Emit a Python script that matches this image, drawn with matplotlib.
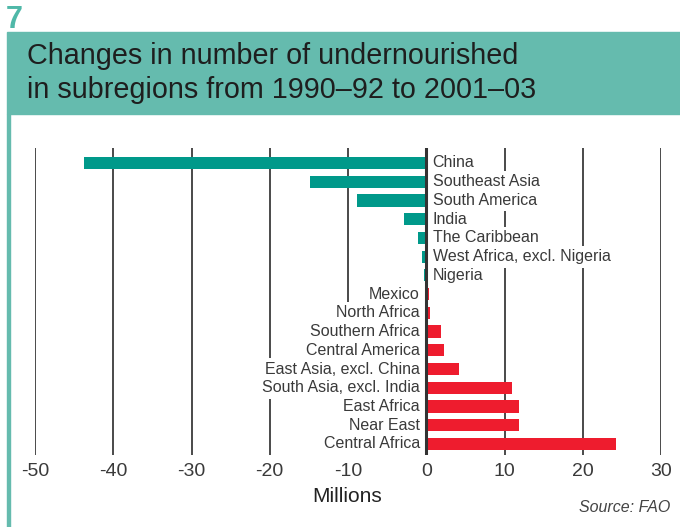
import matplotlib.pyplot as plt
from matplotlib.patches import Rectangle

# --- data (millions, change 1990-92 -> 2001-03) ---
regions = ['China', 'Southeast Asia', 'South America', 'India', 'The Caribbean',
           'West Africa, excl. Nigeria', 'Nigeria', 'Mexico', 'North Africa',
           'Southern Africa', 'Central America', 'East Asia, excl. China',
           'South Asia, excl. India', 'East Africa', 'Near East', 'Central Africa']
changes = [-43.7, -14.8, -8.8, -2.9, -1.0, -0.5, -0.3, 0.4, 0.5,
           1.9, 2.3, 4.2, 10.9, 11.8, 11.9, 24.2]
xticks = [-50, -40, -30, -20, -10, 0, 10, 20, 30]

teal_bar = '#00998a'
red_bar = '#ee1c2e'
band = '#65bbae'
txt = '#3a3a3a'
plt.rcParams['font.family'] = ['Liberation Sans', 'DejaVu Sans']

fig = plt.figure(figsize=(6.8, 5.27), dpi=100)
W, H = 680, 527

# --- header band ---
fig.patches.append(Rectangle((7 / W, 1 - 114 / H), 1, 82 / H, transform=fig.transFigure,
                             color=band, zorder=0))
fig.patches.append(Rectangle((7 / W, 0), 3 / W, 1 - 114 / H, transform=fig.transFigure,
                             color=band, zorder=0))
fig.text(6 / W, 1 - 20 / H, '7', color='#4fb8a8', fontsize=22, fontweight='bold',
         va='center', ha='left')
fig.text(27 / W, 1 - 56 / H, 'Changes in number of undernourished', color='#1e1e1e',
         fontsize=20.7, va='center', ha='left')
fig.text(27 / W, 1 - 90 / H, 'in subregions from 1990\u201392 to 2001\u201303', color='#1e1e1e',
         fontsize=20.7, va='center', ha='left')

# --- chart ---
ax = fig.add_axes([35 / W, 1 - 455 / H, 626 / W, 307 / H])
y = list(range(len(regions)))
colors = [teal_bar if v < 0 else red_bar for v in changes]
ax.barh(y, changes, height=0.65, color=colors, zorder=3)
ax.axvline(0, color='#333333', lw=2.2, zorder=4)

# labels sit on the opposite side of zero, white box hides the grid
for yi, name, v in zip(y, regions, changes):
    if v < 0:
        ax.text(0.8, yi, name, ha='left', va='center', fontsize=11.5, color=txt, zorder=2,
                bbox=dict(facecolor='white', edgecolor='none', pad=2.5))
    else:
        ax.text(-0.8, yi, name, ha='right', va='center', fontsize=11.5, color=txt, zorder=2,
                bbox=dict(facecolor='white', edgecolor='none', pad=2.5))

ax.set_xlim(-50, 30)
ax.set_ylim(15.59, -0.8)
ax.set_xticks(xticks)
ax.set_xticklabels([str(t) for t in xticks], fontsize=14, color=txt)
ax.set_yticks([])
ax.tick_params(axis='x', length=0, pad=6)
ax.grid(axis='x', color='#4a4a4a', lw=1.4, zorder=1)
ax.set_axisbelow(True)
for s in ax.spines.values():
    s.set_visible(False)

fig.text(347 / W, 1 - 496 / H, 'Millions', fontsize=15, color='#222222', ha='center', va='center')
fig.text(670 / W, 1 - 507 / H, 'Source: FAO', fontsize=11.5, style='italic', color='#444444',
         ha='right', va='center')

fig.savefig('out.png', dpi=100)
